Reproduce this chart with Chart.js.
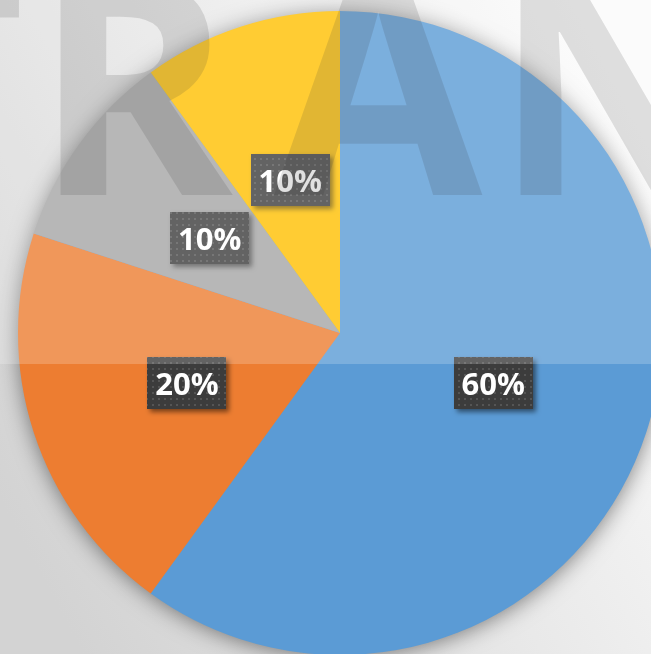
<!DOCTYPE html>
<html>
<head>
<meta charset="utf-8">
<script src="https://cdn.jsdelivr.net/npm/chart.js@4/dist/chart.umd.min.js"></script>
<style>
  html, body { margin: 0; padding: 0; width: 651px; height: 654px; overflow: hidden; background: #e0e0e0; }
  #wrap { position: relative; width: 651px; height: 654px; }
</style>
</head>
<body>
<div id="wrap"><canvas id="c" width="651" height="654"></canvas></div>
<script>
// ---- data ----
const categories = ['Category 1', 'Category 2', 'Category 3', 'Category 4'];
const values = [60, 20, 10, 10];
const sliceColors = ['#5B9BD5', '#ED7D31', '#A5A5A5', '#FFC000'];
const watermarkLetters = ['T', 'R', 'A', 'N'];

// ---- decoration plugin ----
function makeDotPattern(ctx) {
  const p = document.createElement('canvas');
  p.width = 6; p.height = 6;
  const g = p.getContext('2d');
  g.fillStyle = '#3c3c3c';
  g.fillRect(0, 0, 6, 6);
  g.fillStyle = '#555555';
  g.fillRect(2, 2, 2, 2);
  return ctx.createPattern(p, 'repeat');
}

const decor = {
  id: 'decor',
  beforeDraw(chart) {
    const { ctx, width, height } = chart;
    ctx.save();
    const grad = ctx.createLinearGradient(0, 500, 651, 150);
    grad.addColorStop(0, '#d3d3d3');
    grad.addColorStop(1, '#fbfbfb');
    ctx.fillStyle = grad;
    ctx.fillRect(0, 0, width, height);
    ctx.restore();
  },
  beforeDatasetsDraw(chart) {
    const arc = chart.getDatasetMeta(0).data[0];
    if (!arc) return;
    const { ctx } = chart;
    ctx.save();
    ctx.shadowColor = 'rgba(0,0,0,0.5)';
    ctx.shadowBlur = 22;
    ctx.shadowOffsetX = 0;
    ctx.shadowOffsetY = 2;
    ctx.fillStyle = '#5B9BD5';
    ctx.beginPath();
    ctx.arc(arc.x, arc.y, arc.outerRadius - 1, 0, Math.PI * 2);
    ctx.fill();
    ctx.restore();
  },
  afterDatasetsDraw(chart) {
    const { ctx } = chart;
    const meta = chart.getDatasetMeta(0);
    const data = chart.data.datasets[0].data;
    const total = data.reduce((a, b) => a + b, 0);
    const pattern = makeDotPattern(ctx);
    const bw = 79, bh = 52;
    meta.data.forEach((el, i) => {
      const pt = el.getCenterPoint();
      const label = Math.round(data[i] / total * 100) + '%';
      ctx.save();
      ctx.shadowColor = 'rgba(0,0,0,0.5)';
      ctx.shadowBlur = 5;
      ctx.shadowOffsetX = 3;
      ctx.shadowOffsetY = 3;
      ctx.fillStyle = pattern;
      ctx.fillRect(Math.round(pt.x - bw / 2), Math.round(pt.y - bh / 2), bw, bh);
      ctx.restore();
      ctx.save();
      ctx.font = 'bold 31px "Open Sans"';
      ctx.fillStyle = '#ffffff';
      ctx.textAlign = 'center';
      ctx.textBaseline = 'alphabetic';
      ctx.fillText(label, pt.x, pt.y + 12);
      ctx.restore();
    });
  },
  afterDraw(chart) {
    const { ctx, width } = chart;
    ctx.save();
    ctx.font = '750 302px "Open Sans"';
    ctx.fillStyle = 'rgba(0,0,0,0.145)';
    ctx.textBaseline = 'alphabetic';
    const place = [['right', 20], ['left', 57], ['left', 274], ['left', 517]];
    watermarkLetters.forEach((ch, i) => {
      const m = ctx.measureText(ch);
      const [side, ink] = place[i];
      const x = side === 'left' ? ink + m.actualBoundingBoxLeft : ink - m.actualBoundingBoxRight;
      ctx.fillText(ch, x, 195);
    });
    ctx.restore();
    ctx.save();
    ctx.fillStyle = 'rgba(255,255,255,0.2)';
    ctx.fillRect(0, 0, width, 364);
    ctx.restore();
  }
};

new Chart(document.getElementById('c'), {
  type: 'pie',
  data: {
    labels: categories,
    datasets: [{
      data: values,
      backgroundColor: sliceColors,
      borderWidth: 0,
      radius: 322,
      clip: false,
      hoverOffset: 0
    }]
  },
  options: {
    responsive: false,
    animation: false,
    layout: { padding: { left: 29, right: 0, top: 12, bottom: 0 } },
    plugins: {
      legend: { display: false },
      tooltip: { enabled: false },
      title: { display: false }
    }
  },
  plugins: [decor]
});
</script>
</body>
</html>
